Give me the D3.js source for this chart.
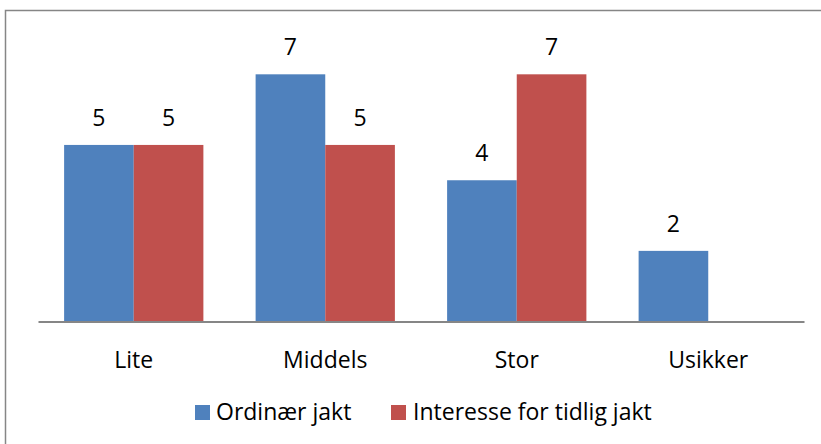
<!DOCTYPE html>
<html>
<head>
<meta charset="utf-8">
<script src="https://cdn.jsdelivr.net/npm/d3@7"></script>
<style>
  html, body { margin: 0; padding: 0; background: #fff; }
  svg { display: block; }
  text { font-family: "Open Sans", Lato, sans-serif; fill: #000; }
</style>
</head>
<body>
<script>
const categories = ["Lite", "Middels", "Stor", "Usikker"];
const seriesNames = ["Ordinær jakt", "Interesse for tidlig jakt"];
const ordinaer = [5, 7, 4, 2];
const tidlig = [5, 5, 7, null];
const colors = ["#4F81BD", "#C0504D"];

const W = 821, H = 444;
const FONT = "'Open Sans', Lato, sans-serif";
const FS = 23;
const svg = d3.select("body").append("svg").attr("width", W).attr("height", H);

// outer chart border
svg.append("rect").attr("x", 5.5).attr("y", 10.5).attr("width", W + 10).attr("height", H + 10)
  .attr("fill", "none").attr("stroke", "#868686").attr("stroke-width", 1.5);

const plotLeft = 38, plotRight = 804, baseY = 321.5, topY = 39;
const x0 = d3.scaleBand().domain(categories).range([plotLeft, plotRight]).paddingInner(0).paddingOuter(0);
const groupPad = 0.75 / 2.75; // gap 75% of bar width
const x1 = d3.scaleBand().domain([0, 1])
  .range([x0.bandwidth() * groupPad / 2, x0.bandwidth() * (1 - groupPad / 2)]);
const y = d3.scaleLinear().domain([0, 8]).range([baseY, topY]);

const series = [ordinaer, tidlig];
series.forEach((vals, si) => {
  const g = svg.append("g");
  const data = categories.map((c, i) => ({ c, v: vals[i] })).filter(d => d.v != null);
  g.selectAll("rect").data(data).enter().append("rect")
    .attr("x", d => x0(d.c) + x1(si))
    .attr("y", d => y(d.v))
    .attr("width", x1.bandwidth())
    .attr("height", d => y(0) - y(d.v))
    .attr("fill", colors[si]);
  g.selectAll("text").data(data).enter().append("text")
    .attr("x", d => x0(d.c) + x1(si) + x1.bandwidth() / 2)
    .attr("y", d => y(d.v) - 19)
    .attr("text-anchor", "middle")
    .attr("font-size", FS)
    .text(d => d.v);
});

// category axis
const axis = d3.axisBottom(x0).tickSize(0).tickPadding(0);
const ax = svg.append("g").attr("transform", `translate(0,${baseY})`).call(axis);
ax.select(".domain").attr("stroke", "#868686").attr("stroke-width", 2);
ax.selectAll(".tick text").attr("font-size", FS).attr("dy", 0).attr("y", 46.5)
  .style("font-family", FONT).attr("fill", "#000");

// legend
const legendItems = [
  { name: seriesNames[0], color: colors[0], sx: 195, tx: 216 },
  { name: seriesNames[1], color: colors[1], sx: 391, tx: 413 }
];
const lg = svg.append("g");
legendItems.forEach(d => {
  lg.append("rect").attr("x", d.sx).attr("y", 405).attr("width", 15).attr("height", 15).attr("fill", d.color);
  lg.append("text").attr("x", d.tx).attr("y", 420).attr("font-size", FS).text(d.name);
});
</script>
</body>
</html>
